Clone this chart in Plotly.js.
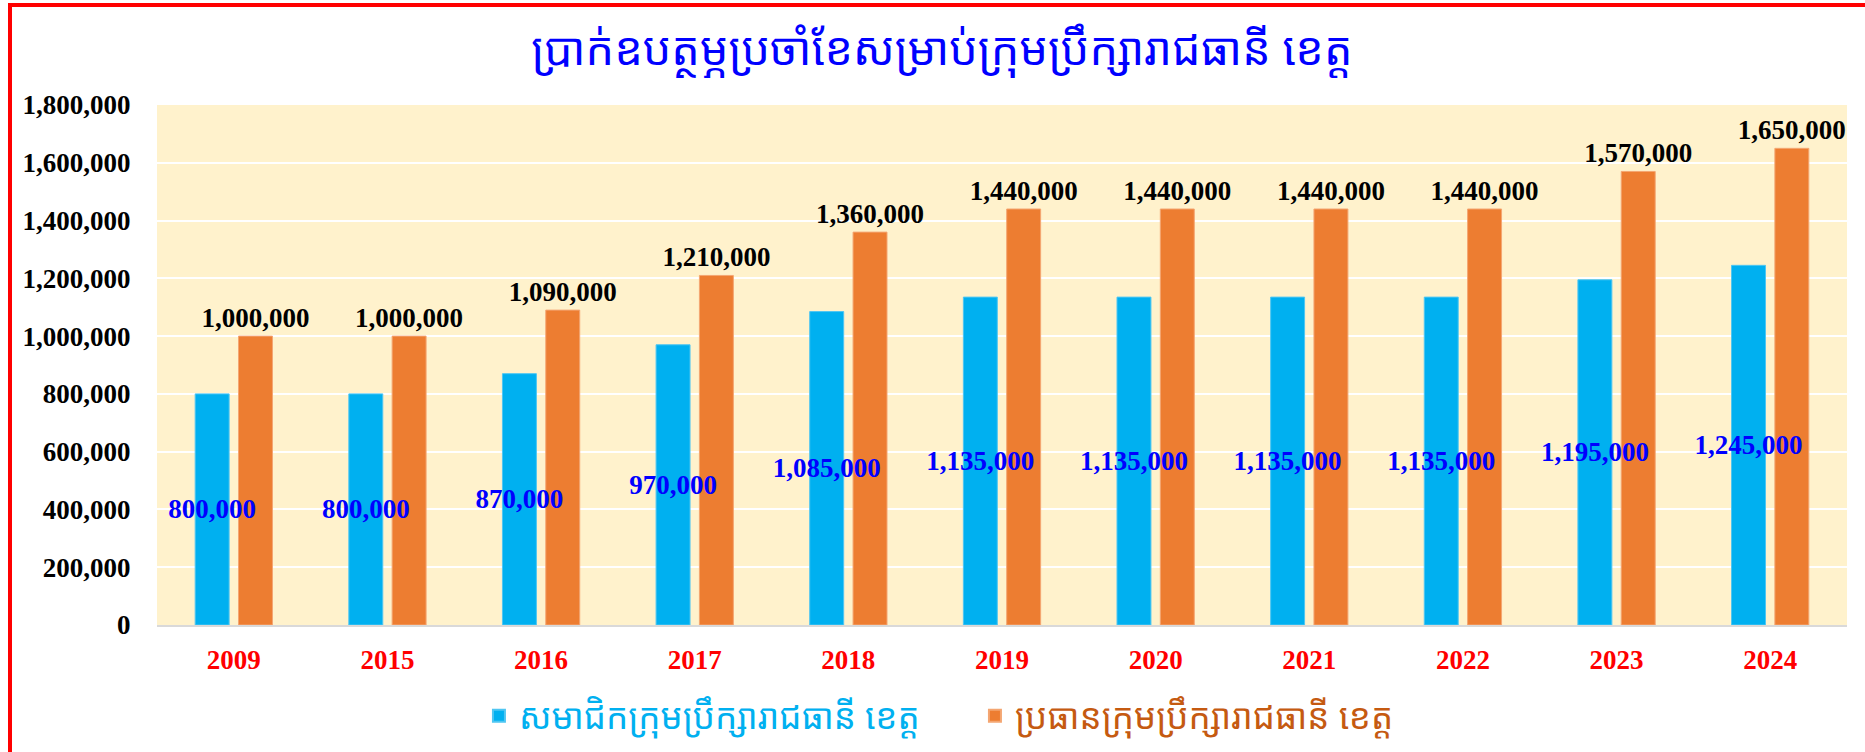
<!DOCTYPE html>
<html>
<head>
<meta charset="utf-8">
<script src="https://cdn.plot.ly/plotly-3.0.1.min.js"></script>
<style>
html,body{margin:0;padding:0;background:#fff;}
#frame{position:absolute;left:8px;top:3px;width:1900px;height:800px;border-left:4px solid #FF0000;border-top:4px solid #FF0000;pointer-events:none;z-index:10;}
#chart{position:absolute;left:0;top:0;width:1865px;height:752px;}
</style>
</head>
<body>
<div id="chart"></div>
<div id="frame"></div>
<script>
const years = ["2009","2015","2016","2017","2018","2019","2020","2021","2022","2023","2024"];
const memberValues = [800000,800000,870000,970000,1085000,1135000,1135000,1135000,1135000,1195000,1245000];
const chairValues = [1000000,1000000,1090000,1210000,1360000,1440000,1440000,1440000,1440000,1570000,1650000];
const memberName = "សមាជិកក្រុមប្រឹក្សារាជធានី ខេត្ត";
const chairName = "ប្រធានក្រុមប្រឹក្សារាជធានី ខេត្ត";
const chartTitle = "ប្រាក់ឧបត្ថម្ភប្រចាំខែសម្រាប់ក្រុមប្រឹក្សារាជធានី ខេត្ត";
const yTicks = [0,200000,400000,600000,800000,1000000,1200000,1400000,1600000,1800000];

const fmt = v => v.toLocaleString('en-US');
const serif = '"Liberation Serif", "Times New Roman", serif';
const khmer = '"Noto Sans Khmer", "Noto Serif Khmer", "Khmer OS", "Noto Sans", sans-serif';
const BAR_W = 0.221;

// orange trace first so the blue labels are drawn on top of orange bars
const traces = [
  {
    type: 'bar', x: years, y: chairValues,
    name: "<span style='color:#C55A11'>" + chairName + "</span>",
    marker: {color: '#ED7D31', line: {color: '#F4A672', width: 1}},
    width: BAR_W, offset: 0.0305,
    text: chairValues.map(fmt),
    textposition: 'outside', textangle: 0,
    constraintext: 'none', cliponaxis: false,
    textfont: {family: serif, size: 27, color: '#000000', weight: 'bold'},
    hoverinfo: 'x+y', legendrank: 2
  },
  {
    type: 'bar', x: years, y: memberValues,
    name: "<span style='color:#00B0F0'>" + memberName + "</span>",
    marker: {color: '#00B0F0', line: {color: '#4FC6F2', width: 1}},
    width: BAR_W, offset: -0.2515,
    text: memberValues.map(fmt),
    textposition: 'inside', insidetextanchor: 'middle', textangle: 0,
    constraintext: 'none',
    textfont: {family: serif, size: 27, color: '#0000FF', weight: 'bold'},
    hoverinfo: 'x+y', legendrank: 1
  }
];

const layout = {
  width: 1865, height: 752,
  margin: {l: 157, r: 18, t: 105, b: 127, pad: 0},
  paper_bgcolor: '#FFFFFF',
  plot_bgcolor: '#FFF2CC',
  barmode: 'overlay',
  title: {
    text: chartTitle,
    x: 0.505, xanchor: 'center',
    y: 0.934, yanchor: 'middle', yref: 'container',
    font: {family: khmer, size: 45, color: '#0000FF'}
  },
  xaxis: {
    type: 'category',
    tickfont: {family: serif, size: 27, color: '#FF0000', weight: 'bold'},
    ticks: 'outside', ticklen: 10, tickcolor: 'rgba(0,0,0,0)',
    showline: true, linecolor: '#D9D9D9', linewidth: 2,
    showgrid: false, zeroline: false
  },
  yaxis: {
    range: [0, 1800000],
    tickvals: yTicks,
    ticktext: yTicks.map(fmt),
    tickfont: {family: serif, size: 27, color: '#000000', weight: 'bold'},
    ticks: 'outside', ticklen: 20, tickcolor: 'rgba(0,0,0,0)',
    showgrid: true, gridcolor: '#FFFFFF', gridwidth: 2,
    zeroline: false, showline: false
  },
  showlegend: true,
  legend: {
    orientation: 'h',
    xref: 'paper', x: 0.1905, xanchor: 'left',
    yref: 'container', y: 0.0479, yanchor: 'middle',
    font: {family: khmer, size: 35},
    itemsizing: 'constant',
    itemwidth: 30,
    entrywidth: 451, entrywidthmode: 'pixels'
  }
};

Plotly.newPlot('chart', traces, layout, {displayModeBar: false, staticPlot: true});
</script>
</body>
</html>
